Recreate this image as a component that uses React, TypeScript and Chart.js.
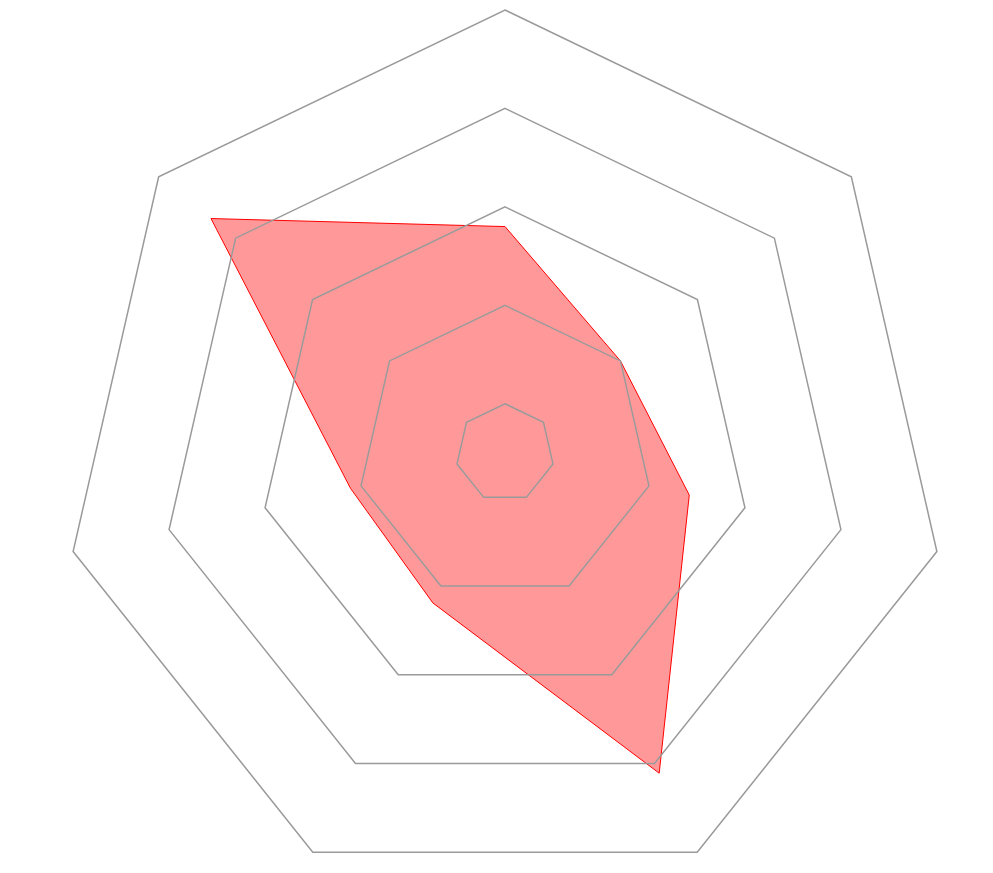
import React, { useEffect, useRef } from "react";
import { Chart, registerables } from "chart.js";

Chart.register(...registerables);

const categories: string[] = ["A", "B", "C", "D", "E", "F", "G"];
const seriesValues: number[] = [56, 40, 48.4, 82.2, 43.8, 42.2, 86.4];
const tickValues: number[] = [10, 20, 40, 60, 80, 100];
const scaleMin = 10;
const scaleMax = 100;

export default function App() {
  const ref = useRef<HTMLCanvasElement | null>(null);

  useEffect(() => {
    if (!ref.current) return;
    const chart = new Chart(ref.current, {
      type: "radar",
      data: {
        labels: categories,
        datasets: [
          {
            label: "Series",
            data: seriesValues,
            backgroundColor: "rgba(255,0,0,0.4)",
            borderColor: "rgb(255,0,0)",
            borderWidth: 1,
            pointRadius: 0,
            pointHoverRadius: 0,
            fill: true,
          },
        ],
      },
      options: {
        responsive: false,
        animation: false,
        plugins: { legend: { display: false }, tooltip: { enabled: false } },
        layout: { padding: { top: 2, left: 0, right: 0, bottom: 0 } },
        scales: {
          r: {
            min: scaleMin,
            max: scaleMax,
            afterBuildTicks: (scale: any) => {
              scale.ticks = tickValues.map((v) => ({ value: v }));
            },
            ticks: { display: false },
            pointLabels: { display: false },
            angleLines: { display: false },
            grid: { color: "#9a9a9a", lineWidth: 1.5, z: 1 },
          },
        },
      },
    });
    return () => chart.destroy();
  }, []);

  return (
    <div style={{ width: 977, height: 857, overflow: "hidden", position: "relative" }}>
      <canvas ref={ref} width={995} height={888} style={{ display: "block" }} />
    </div>
  );
}
